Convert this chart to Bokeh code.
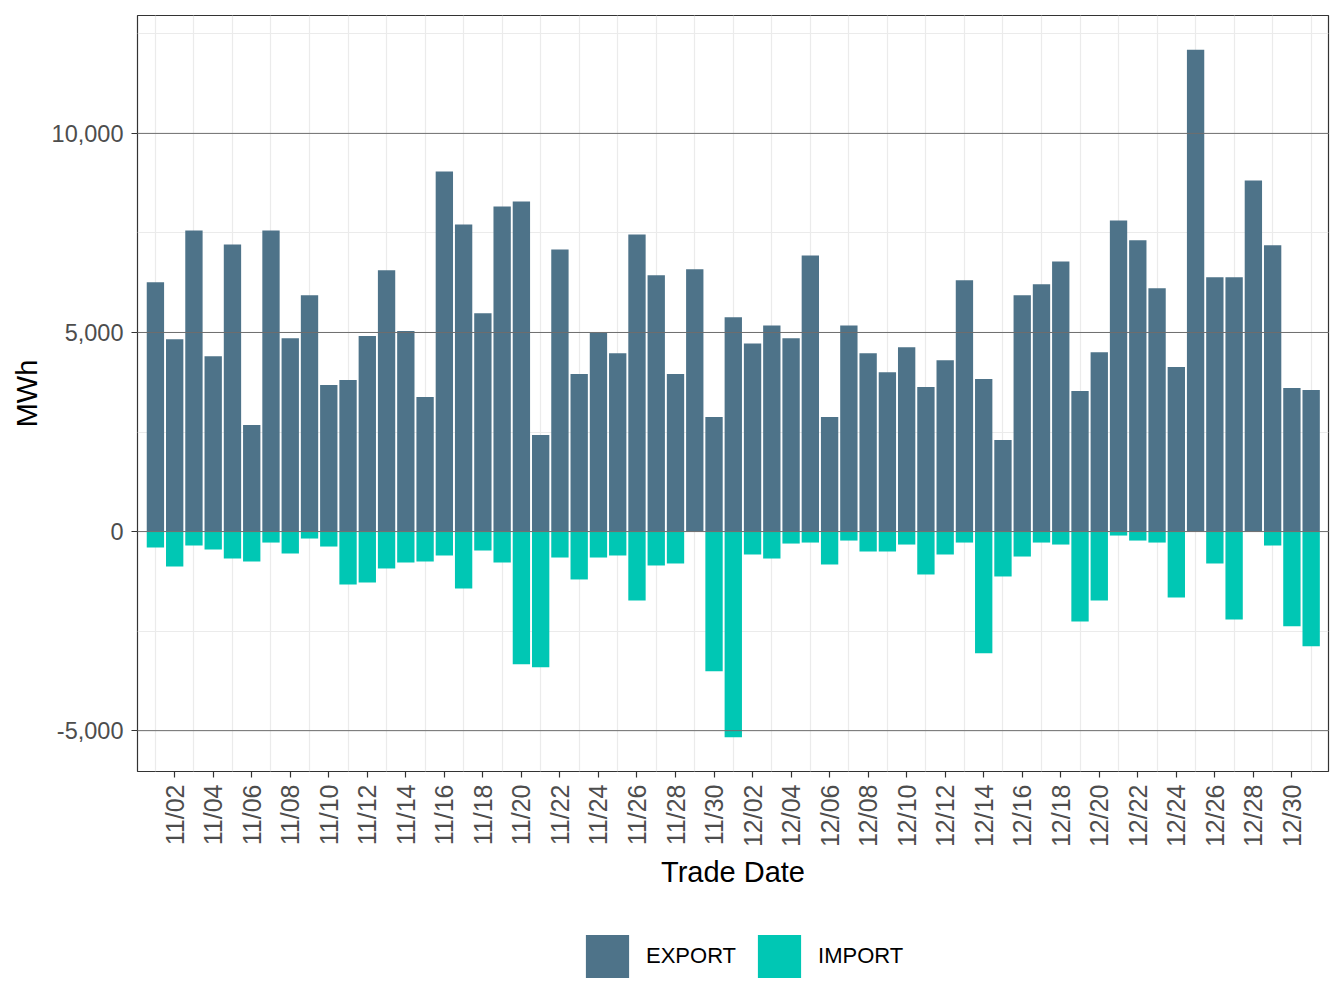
import math
import pandas as pd
from bokeh.plotting import figure
from bokeh.layouts import column
from bokeh.models import (Range1d, FixedTicker, NumeralTickFormatter, Span,
                          Legend, LegendItem, ColumnDataSource)
from bokeh.embed import file_html
from bokeh.resources import INLINE

# ---- data ----
dates = [d.strftime("%m/%d") for d in pd.date_range("2023-11-01", "2023-12-31")]
export_mwh = [6260, 4830, 7560, 4405, 7210, 2675, 7560, 4855, 5935, 3680,
              3805, 4910, 6560, 5035, 3380, 9045, 7710, 5485, 8165, 8290,
              2425, 7085, 3955, 4985, 4480, 7460, 6435, 3955, 6585, 2880,
              5385, 4725, 5175, 4855, 6935, 2880, 5175, 4480, 4000, 4630,
              3630, 4305, 6310, 3830, 2300, 5935, 6210, 6785, 3530, 4505,
              7815, 7315, 6110, 4130, 12100, 6385, 6385, 8820, 7190, 3605,
              3555]
import_mwh = [-400, -877, -350, -450, -677, -752, -276, -551, -175, -376,
              -1328, -1278, -927, -777, -752, -601, -1429, -476, -777, -3333,
              -3409, -652, -1203, -652, -601, -1729, -852, -802, 0, -3509,
              -5163, -576, -677, -301, -276, -827, -226, -501, -501, -326,
              -1078, -576, -276, -3058, -1128, -627, -276, -326, -2256, -1729,
              -100, -226, -276, -1654, 0, -802, -2206, 0, -351, -2381,
              -2882]
y_ticks = [-5000, 0, 5000, 10000]
y_minor = [-2500, 2500, 7500, 12500]
series_names = ["EXPORT", "IMPORT"]
series_colors = ["#4e7389", "#00c7b4"]

idx = list(range(len(dates)))
src = ColumnDataSource(dict(x=idx, exp=export_mwh, imp=import_mwh,
                            zero=[0] * len(idx)))

FONT = "Liberation Sans"

p = figure(frame_width=1191, frame_height=756,
           x_range=Range1d(-0.93, 60.9), y_range=Range1d(-6026, 12961),
           output_backend="svg", toolbar_location=None,
           min_border_left=137, min_border_top=15, min_border_right=8,
           min_border_bottom=150)

r_exp = p.vbar(x="x", width=0.9, top="exp", bottom="zero", source=src,
               fill_color=series_colors[0], line_color=None)
r_imp = p.vbar(x="x", width=0.9, top="zero", bottom="imp", source=src,
               fill_color=series_colors[1], line_color=None)

for yv in y_ticks:
    p.add_layout(Span(location=yv, dimension="width", line_color="#6e6e6e",
                      line_width=1))

# x axis: labels on even days, grid on odd days
xt_major = idx[1::2]
xt_minor = idx[0::2]
p.xaxis.ticker = FixedTicker(ticks=xt_major, minor_ticks=xt_minor)
p.xaxis.major_label_overrides = {i: dates[i] for i in xt_major}
p.xaxis.major_label_orientation = math.pi / 2
p.xgrid.grid_line_color = None
p.xgrid.minor_grid_line_color = "#ebebeb"
p.xgrid.minor_grid_line_width = 1.2

p.yaxis.ticker = FixedTicker(ticks=y_ticks, minor_ticks=y_minor)
p.yaxis.formatter = NumeralTickFormatter(format="0,0")
p.ygrid.grid_line_color = "#ebebeb"
p.ygrid.minor_grid_line_color = "#ebebeb"
p.ygrid.minor_grid_line_width = 1.2

for ax in (p.xaxis[0], p.yaxis[0]):
    ax.axis_line_color = None
    ax.major_tick_line_color = "#333333"
    ax.major_tick_line_width = 1.2
    ax.major_tick_out = 6
    ax.major_tick_in = 0
    ax.minor_tick_line_color = None
    ax.major_label_text_font = FONT
    ax.major_label_text_color = "#4d4d4d"
    ax.axis_label_text_font = FONT
    ax.axis_label_text_font_size = "29px"
    ax.axis_label_text_font_style = "normal"
    ax.axis_label_text_color = "#000000"

p.xaxis.major_label_text_font_size = "25px"
p.yaxis.major_label_text_font_size = "23.5px"
p.xaxis.axis_label = "Trade Date"
p.yaxis.axis_label = "MWh"
p.xaxis.major_label_standoff = 7
p.xaxis.axis_label_standoff = 6
p.yaxis.major_label_standoff = 8
p.yaxis.axis_label_standoff = 6

p.outline_line_color = "#333333"
p.outline_line_width = 1.2
p.background_fill_color = "white"
p.border_fill_color = "white"

# ---- legend strip below the plot (same data; ranges keep bars fully out of view) ----
q = figure(width=1336, height=70, x_range=Range1d(1000, 1001),
           y_range=Range1d(50000, 50001),
           output_backend="svg", toolbar_location=None,
           x_axis_type=None, y_axis_type=None,
           min_border_left=0, min_border_right=0, min_border_top=0,
           min_border_bottom=0)
q.grid.visible = False
q.outline_line_color = None
q.background_fill_color = "white"
q.border_fill_color = "white"
k_exp = q.vbar(x="x", width=0.9, top="exp", bottom="zero", source=src,
               fill_color=series_colors[0], line_color=None)
k_imp = q.vbar(x="x", width=0.9, top="zero", bottom="imp", source=src,
               fill_color=series_colors[1], line_color=None)

legend = Legend(items=[LegendItem(label=series_names[0], renderers=[k_exp]),
                       LegendItem(label=series_names[1], renderers=[k_imp])],
                orientation="horizontal", location=(443, 8),
                glyph_width=54, glyph_height=54, label_standoff=12,
                spacing=16, padding=0, margin=0,
                label_text_font=FONT, label_text_font_size="22px",
                label_text_color="#000000",
                border_line_color=None, background_fill_alpha=0)
q.add_layout(legend)

layout = column(p, q, spacing=0)
open("out.html", "w").write(file_html(layout, INLINE))
